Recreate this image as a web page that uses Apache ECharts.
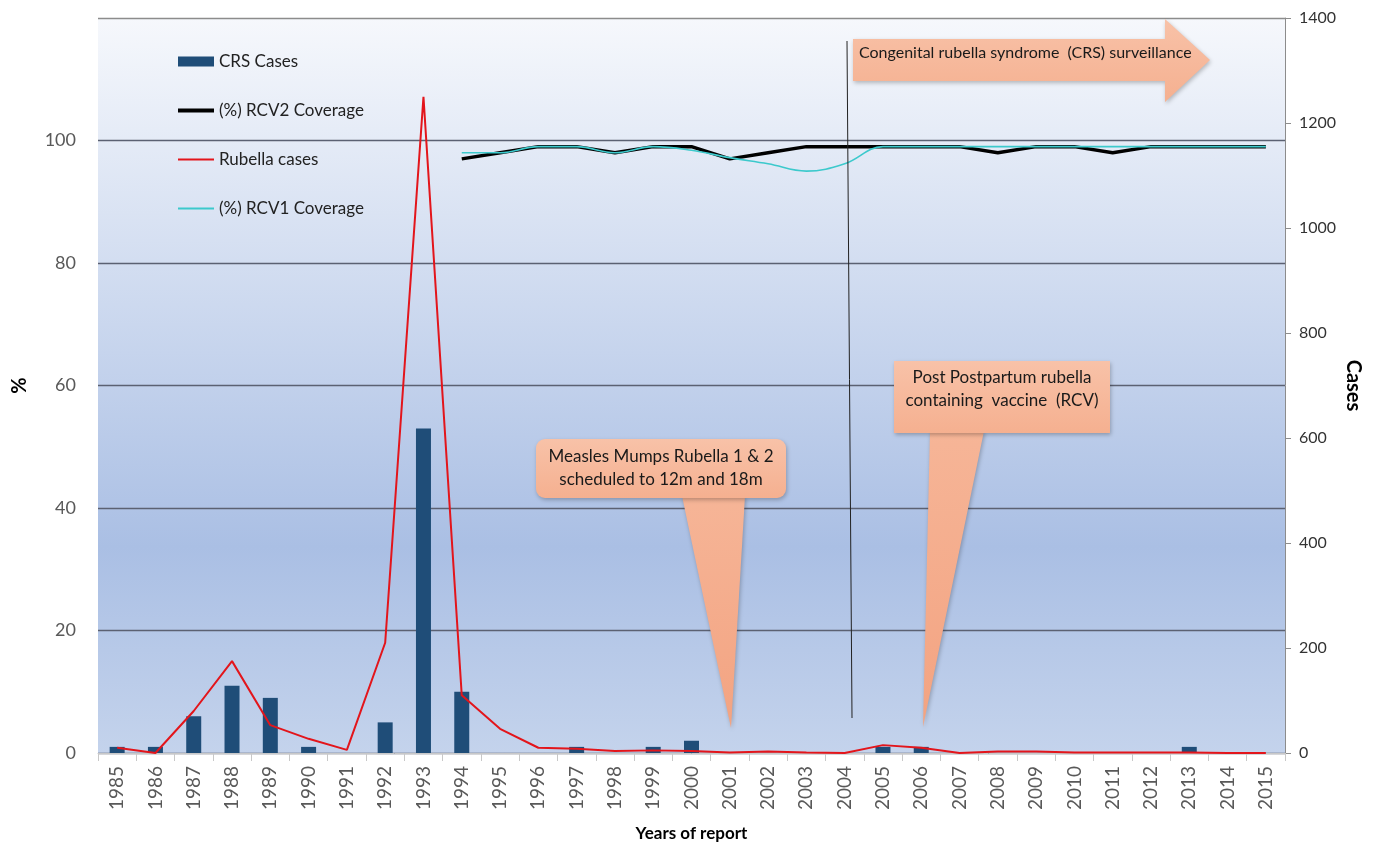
<!DOCTYPE html>
<html>
<head>
<meta charset="utf-8">
<script src="https://cdn.jsdelivr.net/npm/echarts@6/dist/echarts.min.js"></script>
<style>
html,body{margin:0;padding:0;background:#fff;}
#chart{width:1377px;height:842px;}
</style>
</head>
<body>
<div id="chart"></div>
<script>
// ---- data ----
const years = ['1985','1986','1987','1988','1989','1990','1991','1992','1993','1994','1995','1996','1997','1998','1999','2000','2001','2002','2003','2004','2005','2006','2007','2008','2009','2010','2011','2012','2013','2014','2015'];
const crsCases = [1,1,6,11,9,1,0,5,53,10,0,0,1,0,1,2,0,0,0,0,1,1,0,0,0,0,0,0,1,0,0];
const rcv2Coverage = [null,null,null,null,null,null,null,null,null,97,98,99,99,98,99,99,97,98,99,99,99,99,99,98,99,99,98,99,99,99,99];
const rubellaCases = [10,0,80,175,53,27,6,210,1250,110,46,10,8,4,5,4,1,3,1,0,15,10,0,3,3,1,1,1,1,0,0];
const rcv1Coverage = [null,null,null,null,null,null,null,null,null,98,98,99,99,98,99,98.4,97.2,96.2,95,96.2,99,99,99,99,99,99,99,99,99,99,99];
const leftTicks = [0,20,40,60,80,100];
const rightTicks = [0,200,400,600,800,1000,1200,1400];

const FONT = 'Lato';
const chart = echarts.init(document.getElementById('chart'));

const salmonBox = new echarts.graphic.LinearGradient(0,0,0,1,[{offset:0,color:'#f8c2a8'},{offset:1,color:'#f5b090'}]);
const salmonPtr = (c0) => new echarts.graphic.LinearGradient(0,0,0,1,[{offset:0,color:c0},{offset:1,color:'#f3a381'}]);
const shadow = {shadowBlur:4, shadowColor:'rgba(0,0,0,0.25)', shadowOffsetX:1, shadowOffsetY:2};

chart.setOption({
  animation:false,
  backgroundColor:'#ffffff',
  textStyle:{fontFamily:FONT},
  grid:{
    left:98, right:92, top:18, bottom:89, show:true, borderWidth:0,
    containLabel:false, outerBoundsMode:'none',
    backgroundColor:new echarts.graphic.LinearGradient(0,0,0,1,[
      {offset:0,color:'#f6f8fc'},
      {offset:0.72,color:'#aabfe4'},
      {offset:1,color:'#c4d3ec'}
    ])
  },
  legend:{
    orient:'vertical', left:178, top:53, padding:0, itemGap:32, itemWidth:36, itemHeight:10,
    symbolKeepAspect:true,
    textStyle:{fontFamily:FONT,fontSize:17,color:'#222'},
    data:[
      {name:'CRS Cases', icon:'rect'},
      {name:'(%) RCV2 Coverage', icon:'path://M0,0h36v4h-36z'},
      {name:'Rubella cases', icon:'path://M0,0h36v2h-36z'},
      {name:'(%) RCV1 Coverage', icon:'path://M0,0h36v2h-36z'}
    ]
  },
  xAxis:{
    type:'category', data:years, boundaryGap:true,
    name:'Years of report', nameLocation:'middle', nameGap:72, nameMoveOverlap:false,
    nameTextStyle:{fontFamily:FONT,fontSize:17,fontWeight:'bold',color:'#000'},
    axisLine:{lineStyle:{color:'#c8c8c8',width:1}},
    axisTick:{show:true,interval:0,length:8,lineStyle:{color:'#c8c8c8'}},
    axisLabel:{rotate:90,interval:0,fontSize:19,color:'#595959',margin:13,fontFamily:FONT}
  },
  yAxis:[
    {
      type:'value', min:0, max:120, interval:20, position:'left',
      name:'%', nameLocation:'middle', nameGap:68, nameRotate:90, nameMoveOverlap:false,
      nameTextStyle:{fontFamily:FONT,fontSize:20,fontWeight:'bold',color:'#000'},
      axisLine:{show:false}, axisTick:{show:false},
      axisLabel:{fontSize:18,color:'#595959',margin:22,fontFamily:FONT,
        formatter:v=>leftTicks.indexOf(v)>=0?String(v):''},
      splitLine:{show:true,lineStyle:{width:1.3,color:['#5b6172','#5b6172','#5b6172','#5b6172','#5b6172','#5b6172','#8c8c8c']}}
    },
    {
      type:'value', min:0, max:1400, interval:200, position:'right',
      name:'Cases', nameLocation:'middle', nameGap:58, nameRotate:-90, nameMoveOverlap:false,
      nameTextStyle:{fontFamily:FONT,fontSize:20,fontWeight:'bold',color:'#000'},
      axisLine:{show:true,lineStyle:{color:'#8c8c8c',width:1}},
      axisTick:{show:true,length:6,lineStyle:{color:'#8c8c8c'}},
      axisLabel:{fontSize:16,color:'#333',margin:14,fontFamily:FONT,
        formatter:v=>rightTicks.indexOf(v)>=0?String(v):''},
      splitLine:{show:false}
    }
  ],
  series:[
    {name:'CRS Cases', type:'bar', yAxisIndex:0, data:crsCases, barWidth:15,
      itemStyle:{color:'#1f4d78'}, z:2},
    {name:'(%) RCV2 Coverage', type:'line', yAxisIndex:0, data:rcv2Coverage,
      symbol:'none', lineStyle:{color:'#000',width:3.5}, itemStyle:{color:'#000'}, z:3},
    {name:'Rubella cases', type:'line', yAxisIndex:1, data:rubellaCases,
      symbol:'none', lineStyle:{color:'#e3151b',width:2}, itemStyle:{color:'#e3151b'}, z:4},
    {name:'(%) RCV1 Coverage', type:'line', yAxisIndex:0, data:rcv1Coverage, smooth:0.4,
      symbol:'none', lineStyle:{color:'#3cc9cc',width:1.6}, itemStyle:{color:'#3cc9cc'}, z:5}
  ],
  graphic:[
    // vertical marker line
    {type:'line', z:10, shape:{x1:847,y1:41,x2:852,y2:718}, style:{stroke:'#222',lineWidth:1}},
    // CRS surveillance arrow
    {type:'polygon', z:11, shape:{points:[[853,39],[1165,39],[1165,19],[1210,60],[1165,102],[1165,81],[853,81]]},
      style:Object.assign({fill:salmonBox}, shadow)},
    {type:'text', z:12, style:{x:859,y:53,text:'Congenital rubella syndrome  (CRS) surveillance', font:'16px Lato', fill:'#1a1a1a', textVerticalAlign:'middle'}},
    // MMR callout
    {type:'polygon', z:11, shape:{points:[[682,496],[745,496],[731,728]]},
      style:Object.assign({fill:salmonPtr('#f6b597')}, shadow)},
    {type:'rect', z:11, shape:{x:536,y:439,width:250,height:59,r:9},
      style:Object.assign({fill:salmonBox}, shadow)},
    {type:'text', z:12, style:{x:661,y:457,text:'Measles Mumps Rubella 1 & 2', font:'17px Lato', fill:'#1a1a1a', textAlign:'center', textVerticalAlign:'middle'}},
    {type:'text', z:12, style:{x:661,y:480,text:'scheduled to 12m and 18m', font:'17px Lato', fill:'#1a1a1a', textAlign:'center', textVerticalAlign:'middle'}},
    // Postpartum callout
    {type:'polygon', z:11, shape:{points:[[930,431],[984,431],[923,727]]},
      style:Object.assign({fill:salmonPtr('#f6b597')}, shadow)},
    {type:'rect', z:11, shape:{x:894,y:361,width:216,height:72,r:0},
      style:Object.assign({fill:salmonBox}, shadow)},
    {type:'text', z:12, style:{x:1002,y:378,text:'Post Postpartum rubella', font:'17px Lato', fill:'#1a1a1a', textAlign:'center', textVerticalAlign:'middle'}},
    {type:'text', z:12, style:{x:1002,y:401,text:'containing  vaccine  (RCV)', font:'17px Lato', fill:'#1a1a1a', textAlign:'center', textVerticalAlign:'middle'}}
  ]
});
</script>
</body>
</html>
